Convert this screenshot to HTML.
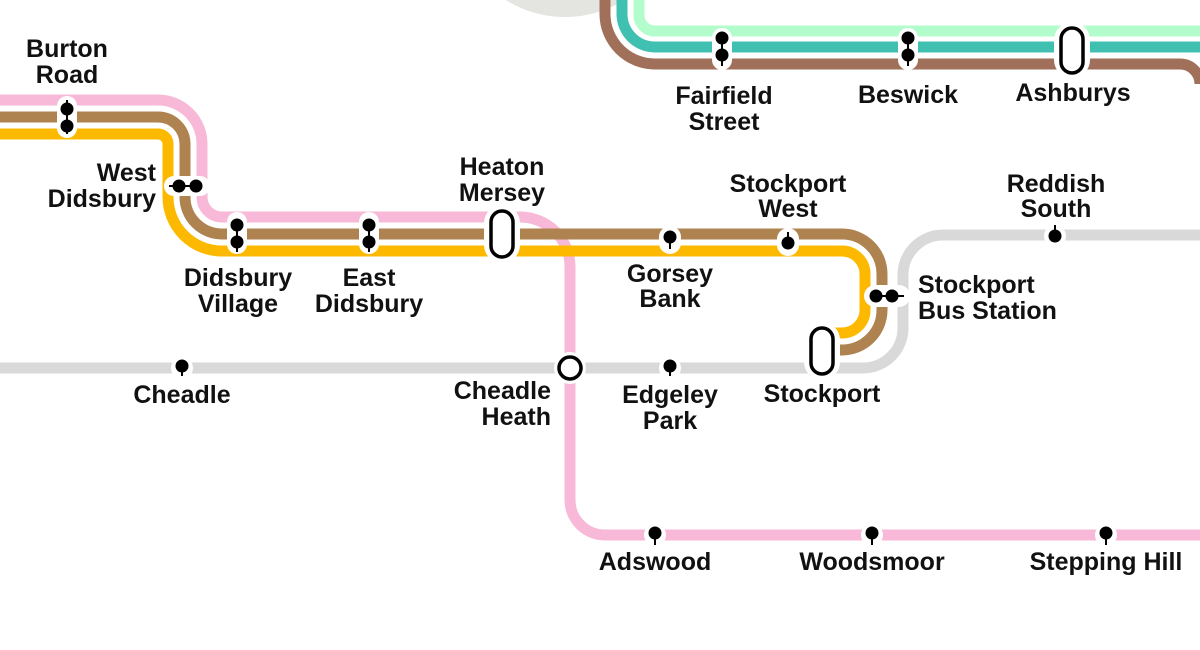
<!DOCTYPE html>
<html><head><meta charset="utf-8"><style>
html,body{margin:0;padding:0;background:#fff;width:1200px;height:650px;overflow:hidden}
svg text{font-family:"Liberation Sans",sans-serif;font-weight:bold;font-size:25px;fill:#111;text-anchor:middle}
svg text.r{text-anchor:end}
svg text.l{text-anchor:start}
</style></head><body>
<svg width="1200" height="650" viewBox="0 0 1200 650" xmlns="http://www.w3.org/2000/svg">
<circle cx="565" cy="-95" r="112" fill="#e4e4e0"/>
<g fill="none" stroke-width="11">
<path d="M605 0 V14 A50 50 0 0 0 655 64 H1180 A20 20 0 0 1 1200 84" stroke="#a0705a"/>
<path d="M622 0 V14 A33 33 0 0 0 655 47 H1200" stroke="#40c0b0"/>
<path d="M639 0 V14 A16 16 0 0 0 655 31 H1200" stroke="#b3fdcd"/>
<path d="M0 368 H863 A40 40 0 0 0 903 328 V275 A40 40 0 0 1 943 235 H1200" stroke="#d9d9d9"/>
<path d="M0 100 H158 A44 44 0 0 1 202 144 V197 A20 20 0 0 0 222 217 H520 A50 50 0 0 1 570 267 V500 A35 35 0 0 0 605 535 H1200" stroke="#f7b9d7"/>
<path d="M0 117 H158 A27 27 0 0 1 185 144 V197 A37 37 0 0 0 222 234 H842 A40 40 0 0 1 882 274 V310 A40 40 0 0 1 842 350 H825" stroke="#ae8350"/>
<path d="M0 134 H158 A10 10 0 0 1 168 144 V197 A54 54 0 0 0 222 251 H842 A23 23 0 0 1 865 274 V310 A23 23 0 0 1 842 333 H825" stroke="#fdb900"/>
</g>
<g fill="#fff">
<rect x="57" y="96" width="20" height="42" rx="10"/>
<rect x="164" y="176" width="46" height="20" rx="10"/>
<rect x="227" y="212" width="20" height="42" rx="10"/>
<rect x="359" y="212" width="20" height="42" rx="10"/>
<rect x="659" y="226" width="22" height="28" rx="11"/>
<rect x="777" y="228" width="22" height="28" rx="11"/>
<rect x="864" y="285" width="46" height="22" rx="11"/>
<circle cx="182" cy="368" r="11"/><circle cx="670" cy="368" r="11"/>
<circle cx="1055" cy="236" r="11"/>
<circle cx="655" cy="535" r="11"/><circle cx="872" cy="535" r="11"/><circle cx="1106" cy="535" r="11"/>
<rect x="712" y="28" width="20" height="42" rx="10"/>
<rect x="898" y="28" width="20" height="42" rx="10"/>
<rect x="484" y="205" width="36" height="58" rx="18"/>
<rect x="804" y="322" width="36" height="58" rx="18"/>
<rect x="1054" y="22" width="36" height="56" rx="18"/>
<circle cx="570" cy="368" r="16"/>
</g>
<g fill="#000" stroke="#000" stroke-width="2">
<circle cx="67" cy="109" r="5.5"/><circle cx="67" cy="126" r="5.5"/><line x1="67" y1="100" x2="67" y2="134"/>
<circle cx="179" cy="186" r="5.5"/><circle cx="196" cy="186" r="5.5"/><line x1="169" y1="186" x2="196" y2="186"/>
<circle cx="237" cy="225" r="5.5"/><circle cx="237" cy="242" r="5.5"/><line x1="237" y1="225" x2="237" y2="252"/>
<circle cx="369" cy="225" r="5.5"/><circle cx="369" cy="242" r="5.5"/><line x1="369" y1="225" x2="369" y2="252"/>
<circle cx="670" cy="237" r="5.5"/><line x1="670" y1="237" x2="670" y2="249"/>
<circle cx="788" cy="243" r="5.5"/><line x1="788" y1="232" x2="788" y2="243"/>
<circle cx="876" cy="296" r="5.5"/><circle cx="892" cy="296" r="5.5"/><line x1="876" y1="296" x2="904" y2="296"/>
<circle cx="182" cy="366" r="5.5"/><line x1="182" y1="366" x2="182" y2="376"/>
<circle cx="670" cy="366" r="5.5"/><line x1="670" y1="366" x2="670" y2="376"/>
<circle cx="1055" cy="236" r="5.5"/><line x1="1055" y1="225" x2="1055" y2="236"/>
<circle cx="655" cy="533" r="5.5"/><line x1="655" y1="533" x2="655" y2="545"/>
<circle cx="872" cy="533" r="5.5"/><line x1="872" y1="533" x2="872" y2="545"/>
<circle cx="1106" cy="533" r="5.5"/><line x1="1106" y1="533" x2="1106" y2="545"/>
<circle cx="722" cy="38" r="5.5"/><circle cx="722" cy="55" r="5.5"/><line x1="722" y1="38" x2="722" y2="66"/>
<circle cx="908" cy="38" r="5.5"/><circle cx="908" cy="55" r="5.5"/><line x1="908" y1="38" x2="908" y2="66"/>
</g>
<g fill="#fff" stroke="#000" stroke-width="3.5">
<rect x="491" y="211" width="22" height="46" rx="11"/>
<rect x="811" y="328" width="22" height="46" rx="11"/>
<rect x="1061" y="28" width="22" height="45" rx="11"/>
<circle cx="570" cy="368" r="11"/>
</g>
<text x="67" y="57">Burton</text><text x="67" y="83">Road</text>
<text class="r" x="156" y="181">West</text><text class="r" x="156" y="207">Didsbury</text>
<text x="238" y="286">Didsbury</text><text x="238" y="312">Village</text>
<text x="369" y="286">East</text><text x="369" y="312">Didsbury</text>
<text x="502" y="175">Heaton</text><text x="502" y="201">Mersey</text>
<text x="670" y="282">Gorsey</text><text x="670" y="307">Bank</text>
<text x="788" y="192">Stockport</text><text x="788" y="217">West</text>
<text class="l" x="918" y="293">Stockport</text><text class="l" x="918" y="319">Bus Station</text>
<text x="1056" y="192">Reddish</text><text x="1056" y="217">South</text>
<text x="182" y="403">Cheadle</text>
<text class="r" x="551" y="399">Cheadle</text><text class="r" x="551" y="425">Heath</text>
<text x="670" y="403">Edgeley</text><text x="670" y="429">Park</text>
<text x="822" y="402">Stockport</text>
<text x="655" y="570">Adswood</text><text x="872" y="570">Woodsmoor</text><text x="1106" y="570">Stepping Hill</text>
<text x="724" y="104">Fairfield</text><text x="724" y="130">Street</text>
<text x="908" y="103">Beswick</text><text x="1073" y="101">Ashburys</text>
</svg>
</body></html>
